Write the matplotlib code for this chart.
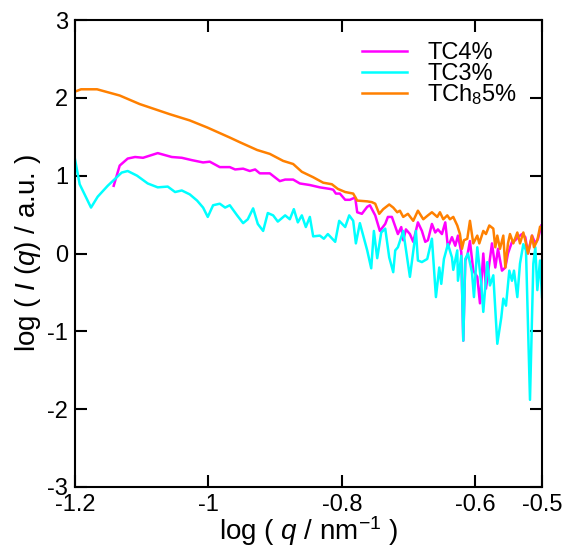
import numpy as np
import matplotlib.pyplot as plt

plt.rcParams['font.family'] = ['Liberation Sans', 'DejaVu Sans']
plt.rcParams['mathtext.fontset'] = 'custom'
plt.rcParams['mathtext.rm'] = 'Liberation Sans'
plt.rcParams['mathtext.it'] = 'Liberation Sans:italic'

# TC4% (magenta)
x_tc4 = [-1.142, -1.133, -1.121, -1.110, -1.098, -1.076, -1.055, -1.040, -1.025, -1.008,
         -0.998, -0.983, -0.968, -0.960, -0.948, -0.938, -0.930, -0.923, -0.908, -0.893,
         -0.885, -0.873, -0.863, -0.848, -0.833, -0.818, -0.813, -0.809, -0.803, -0.795,
         -0.788, -0.780, -0.777, -0.770, -0.762, -0.758, -0.750, -0.743, -0.735, -0.731,
         -0.725, -0.716, -0.711, -0.708, -0.704, -0.698, -0.693, -0.686, -0.680, -0.675,
         -0.671, -0.665, -0.660, -0.656, -0.650, -0.645, -0.641, -0.635, -0.630, -0.626,
         -0.621, -0.618, -0.615, -0.612, -0.608, -0.603, -0.597, -0.593, -0.588, -0.584,
         -0.579, -0.575, -0.570, -0.566, -0.560, -0.555, -0.551, -0.545, -0.540, -0.536,
         -0.530, -0.525, -0.521, -0.515, -0.510, -0.506, -0.501]
y_tc4 = [0.87, 1.13, 1.22, 1.24, 1.23, 1.29, 1.24, 1.23, 1.20, 1.17,
         1.18, 1.11, 1.11, 1.08, 1.09, 1.06, 1.08, 1.03, 1.03, 0.93,
         0.95, 0.95, 0.90, 0.88, 0.85, 0.83, 0.82, 0.77, 0.77, 0.69,
         0.69, 0.72, 0.53, 0.51, 0.60, 0.62, 0.49, 0.29, 0.38, 0.47,
         0.47, 0.25, 0.34, 0.17, 0.31, 0.25, 0.15, 0.40, 0.29, 0.15,
         0.17, 0.38, 0.27, 0.31, 0.25, 0.40, 0.08, 0.21, 0.10, 0.23,
         0.02, -1.12, -0.09, -0.03, 0.16, -0.22, -0.30, -0.64, 0.00, -0.45,
         -0.13, 0.13, -0.18, 0.06, -0.22, -0.18, 0.00, 0.15, 0.17, 0.21,
         0.25, 0.21, 0.00, 0.23, 0.13, 0.19, 0.36]

# TC3% (cyan)
x_tc3 = [-1.200, -1.193, -1.176, -1.166, -1.151, -1.130, -1.121, -1.107, -1.091, -1.076,
         -1.061, -1.050, -1.040, -1.028, -1.017, -1.008, -1.001, -0.993, -0.983, -0.975,
         -0.968, -0.957, -0.948, -0.941, -0.933, -0.926, -0.918, -0.911, -0.903, -0.896,
         -0.885, -0.878, -0.872, -0.866, -0.860, -0.854, -0.848, -0.843, -0.833, -0.827,
         -0.821, -0.810, -0.804, -0.795, -0.789, -0.783, -0.779, -0.773, -0.762, -0.756,
         -0.752, -0.747, -0.741, -0.735, -0.729, -0.723, -0.720, -0.716, -0.708, -0.698,
         -0.689, -0.686, -0.680, -0.672, -0.665, -0.659, -0.654, -0.651, -0.647, -0.641,
         -0.635, -0.633, -0.627, -0.626, -0.621, -0.618, -0.615, -0.611, -0.605, -0.602,
         -0.597, -0.591, -0.588, -0.582, -0.578, -0.573, -0.567, -0.561, -0.558, -0.554,
         -0.549, -0.545, -0.542, -0.537, -0.533, -0.528, -0.524, -0.518, -0.513, -0.510,
         -0.507, -0.503, -0.500]
y_tc3 = [1.21, 0.89, 0.59, 0.73, 0.87, 1.04, 1.06, 1.00, 0.90, 0.85,
         0.86, 0.79, 0.81, 0.76, 0.68, 0.59, 0.47, 0.62, 0.64, 0.59,
         0.62, 0.49, 0.39, 0.44, 0.58, 0.38, 0.29, 0.52, 0.49, 0.41,
         0.49, 0.44, 0.57, 0.40, 0.49, 0.34, 0.47, 0.22, 0.23, 0.19,
         0.25, 0.15, 0.42, 0.34, 0.49, 0.42, 0.13, 0.39, 0.04, -0.19,
         0.29, -0.06, 0.27, 0.32, -0.05, -0.24, 0.04, 0.08, 0.29, -0.30,
         0.29, -0.09, -0.11, -0.07, 0.19, -0.56, -0.18, -0.39, -0.07, 0.12,
         -0.05, -0.21, 0.04, -0.35, -0.03, -1.12, -0.07, 0.00, -0.24, -0.56,
         0.08, -0.39, -0.75, -0.11, -0.41, -0.28, -1.16, -0.82, -0.58, -0.67,
         -0.22, -0.35, -0.22, -0.56, -0.13, 0.12, 0.04, -1.88, -0.13, 0.08,
         -0.47, -0.09, -0.56]

# TCh8 5% (orange)
x_tch8 = [-1.200, -1.191, -1.167, -1.133, -1.103, -1.058, -1.028, -1.002, -0.968, -0.953,
          -0.927, -0.908, -0.888, -0.873, -0.860, -0.843, -0.828, -0.815, -0.806, -0.795,
          -0.783, -0.777, -0.762, -0.755, -0.750, -0.744, -0.738, -0.729, -0.723, -0.717,
          -0.713, -0.708, -0.701, -0.693, -0.686, -0.678, -0.671, -0.665, -0.657, -0.653,
          -0.648, -0.642, -0.638, -0.633, -0.627, -0.623, -0.620, -0.617, -0.612, -0.608,
          -0.603, -0.597, -0.594, -0.588, -0.584, -0.579, -0.573, -0.570, -0.567, -0.563,
          -0.558, -0.555, -0.551, -0.548, -0.543, -0.537, -0.533, -0.528, -0.525, -0.521,
          -0.515, -0.512, -0.507, -0.503]
y_tch8 = [2.08, 2.11, 2.11, 2.03, 1.92, 1.79, 1.71, 1.62, 1.49, 1.43,
          1.33, 1.28, 1.19, 1.15, 1.05, 0.98, 0.91, 0.89, 0.83, 0.79,
          0.77, 0.68, 0.67, 0.66, 0.64, 0.51, 0.57, 0.63, 0.59, 0.53,
          0.55, 0.47, 0.51, 0.42, 0.55, 0.44, 0.49, 0.53, 0.47, 0.53,
          0.44, 0.49, 0.44, 0.47, 0.36, 0.25, 0.06, 0.17, 0.19, 0.42,
          0.13, 0.23, 0.13, 0.29, 0.25, 0.36, 0.32, 0.08, 0.23, 0.06,
          0.23, -0.18, 0.13, 0.25, 0.13, 0.27, 0.13, 0.27, 0.17, 0.00,
          0.23, 0.08, 0.17, 0.34]

labels = ['TC4%', 'TC3%', 'TCh$_8$5%']
colors = ['#ff00ff', '#00ffff', '#ff8000']

fig = plt.figure(figsize=(5.73, 5.47), dpi=100)
ax = fig.add_axes([0.1309, 0.1097, 0.8150, 0.8537])

series = [(x_tc4, y_tc4), (x_tc3, y_tc3), (x_tch8, y_tch8)]
for (xs, ys), c, lab in zip(series, colors, labels):
    ax.plot(xs, ys, color=c, lw=1.8, label=lab)

ax.set_xlim(-1.2, -0.5)
ax.set_ylim(-3, 3)
ax.set_xticks([-1.2, -1.0, -0.8, -0.6, -0.5])
ax.set_xticklabels(['-1.2', '-1', '-0.8', '-0.6', '-0.5'])
ax.set_yticks([-3, -2, -1, 0, 1, 2, 3])
ax.set_yticklabels(['-3', '-2', '-1', '0', '1', '2', '3'])
ax.tick_params(direction='in', length=8.5, width=1.5, labelsize=17,
               top=True, right=True)
ax.tick_params(axis='x', pad=5)
ax.tick_params(axis='y', pad=5)
for s in ax.spines.values():
    s.set_linewidth(1.5)

ax.set_xlabel('log ( $q$ / nm$^{-1}$ )', fontsize=20, labelpad=-1)
ax.set_ylabel('log ( $I$ ($q$) / a.u. )', fontsize=20, labelpad=3)

# legend drawn by hand (gnuplot-like tight rows)
for i, (c, lab) in enumerate(zip(colors, labels)):
    yl = 0.934 - i * 0.045
    ax.plot([0.615, 0.711], [yl, yl], color=c, lw=1.8, transform=ax.transAxes)
    ax.text(0.754, yl - 0.018, lab, fontsize=17, va='baseline', ha='left',
            transform=ax.transAxes)

plt.savefig('out.png', dpi=100)
